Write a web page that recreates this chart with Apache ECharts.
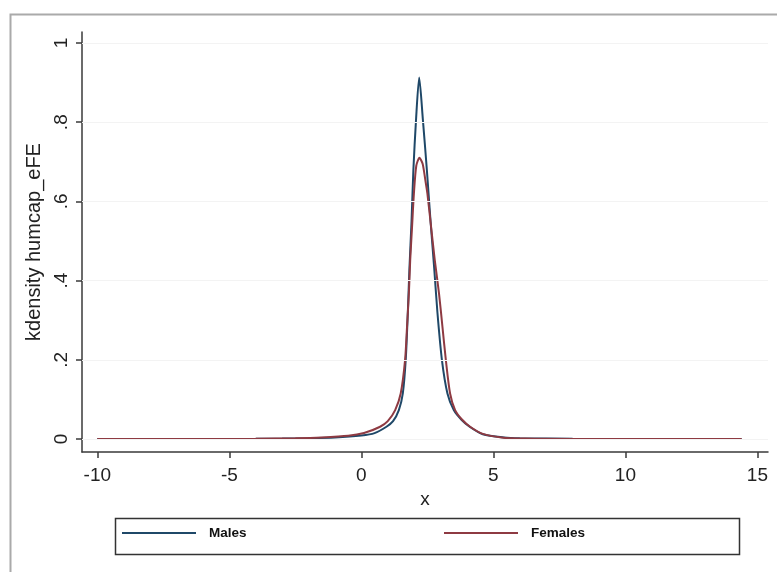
<!DOCTYPE html>
<html>
<head>
<meta charset="utf-8">
<script src="https://cdn.jsdelivr.net/npm/echarts@6/dist/echarts.min.js"></script>
<style>
html,body{margin:0;padding:0;background:#fff;}
#chart{width:777px;height:572px;}
</style>
</head>
<body>
<div id="chart"></div>
<script>
// Tick labels
const xTicks = [-10, -5, 0, 5, 10, 15];
const yTicks = [0, 0.2, 0.4, 0.6, 0.8, 1];
const yTickLabels = ['0', '.2', '.4', '.6', '.8', '1'];

// Males kernel density
const malesX = [-10, -6, -4, -3, -2, -1, 0, 0.5, 0.95, 1.2, 1.42, 1.57, 1.68, 1.76, 1.82, 1.9, 1.97, 2.07, 2.19, 2.33, 2.48, 2.62, 2.76, 2.88, 3.05, 3.26, 3.5, 3.8, 4.1, 4.6, 5.4, 6, 8, 10, 14.4];
const malesY = [0, 0, 0.0005, 0.001, 0.002, 0.004, 0.009, 0.015, 0.031, 0.045, 0.073, 0.115, 0.2, 0.32, 0.43, 0.55, 0.68, 0.806, 0.913, 0.806, 0.68, 0.55, 0.43, 0.32, 0.2, 0.115, 0.073, 0.048, 0.031, 0.012, 0.004, 0.002, 0.0005, 0, 0];

// Females kernel density
const femalesX = [-10, -6, -4, -2.5, -1.5, -0.5, 0.1, 0.71, 1.0, 1.28, 1.49, 1.655, 1.73, 1.8, 1.85, 1.92, 1.99, 2.08, 2.2, 2.32, 2.42, 2.5, 2.64, 2.78, 2.94, 3.07, 3.2, 3.36, 3.55, 3.8, 4.12, 4.6, 5.3, 6.2, 8, 10, 14.4];
const femalesY = [0, 0, 0.0005, 0.002, 0.004, 0.008, 0.015, 0.031, 0.045, 0.073, 0.115, 0.199, 0.284, 0.368, 0.452, 0.536, 0.62, 0.69, 0.71, 0.695, 0.655, 0.62, 0.536, 0.452, 0.368, 0.284, 0.199, 0.115, 0.073, 0.05, 0.031, 0.013, 0.004, 0.001, 0, 0, 0];

const seriesNames = ['Males', 'Females'];
const seriesColors = ['#1f4868', '#8e3a42'];
const xName = 'x';
const yName = 'kdensity humcap_eFE';

const zip = (a, b) => a.map((v, i) => [v, b[i]]);
const FONT = '"Liberation Sans", Arial, sans-serif';
const legendText = {fontFamily: FONT, fontSize: 13.5, fontWeight: 'bold', color: '#111', padding: [0, 0, 0, 8]};

const chart = echarts.init(document.getElementById('chart'), null, {renderer: 'canvas'});
chart.setOption({
  backgroundColor: '#ffffff',
  animation: false,
  grid: {left: 82, top: 32, right: 9, bottom: 120, containLabel: false},
  xAxis: {
    type: 'value', min: -10.58, max: 15.4,
    name: xName, nameLocation: 'middle', nameGap: 33,
    nameTextStyle: {fontFamily: FONT, fontSize: 19, color: '#222'},
    axisLine: {show: true, onZero: false, lineStyle: {color: '#3a3a3a', width: 1.5}},
    axisTick: {show: true, length: 6, customValues: xTicks, lineStyle: {color: '#3a3a3a', width: 1.5}},
    axisLabel: {customValues: xTicks, margin: 14, fontFamily: FONT, fontSize: 19, color: '#222'},
    splitLine: {show: false}
  },
  yAxis: {
    type: 'value', min: -0.0328, max: 1.0278,
    name: yName, nameLocation: 'middle', nameGap: 29, nameRotate: 90,
    nameTextStyle: {fontFamily: FONT, fontSize: 20, color: '#222'},
    axisLine: {show: true, onZero: false, lineStyle: {color: '#3a3a3a', width: 1.5}},
    axisTick: {show: true, length: 6, customValues: yTicks, lineStyle: {color: '#3a3a3a', width: 1.5}},
    axisLabel: {
      customValues: yTicks, rotate: 90, margin: 11, fontFamily: FONT, fontSize: 19, color: '#222',
      formatter: v => { const i = yTicks.findIndex(t => Math.abs(t - v) < 1e-9); return i >= 0 ? yTickLabels[i] : ''; }
    },
    splitLine: {show: false}
  },
  legend: [
    {data: [{name: seriesNames[0], icon: 'rect'}], left: 122, top: 526, padding: 0, itemWidth: 74, itemHeight: 2,
     textStyle: legendText},
    {data: [{name: seriesNames[1], icon: 'rect'}], left: 444, top: 526, padding: 0, itemWidth: 74, itemHeight: 2,
     textStyle: legendText}
  ],
  graphic: [
    {type: 'rect', left: 8, top: 12, z: -10, silent: true,
     shape: {width: 820, height: 620}, style: {fill: 'none', stroke: '#aaaaaa', lineWidth: 2}},
    {type: 'rect', left: 113, top: 516, silent: true,
     shape: {width: 624, height: 36}, style: {fill: 'none', stroke: '#333333', lineWidth: 1.5}}
  ],
  series: [
    {
      name: seriesNames[0], type: 'line', data: zip(malesX, malesY),
      symbol: 'none', smooth: 0.25, z: 3,
      lineStyle: {color: seriesColors[0], width: 2}, itemStyle: {color: seriesColors[0]},
      markLine: {
        silent: true, symbol: 'none', label: {show: false}, animation: false,
        lineStyle: {color: '#f3f3f3', width: 1, type: 'solid'},
        data: yTicks.map(v => ({yAxis: v}))
      }
    },
    {
      name: seriesNames[1], type: 'line', data: zip(femalesX, femalesY),
      symbol: 'none', smooth: 0.25, z: 4,
      lineStyle: {color: seriesColors[1], width: 2}, itemStyle: {color: seriesColors[1]}
    }
  ]
});
</script>
</body>
</html>
